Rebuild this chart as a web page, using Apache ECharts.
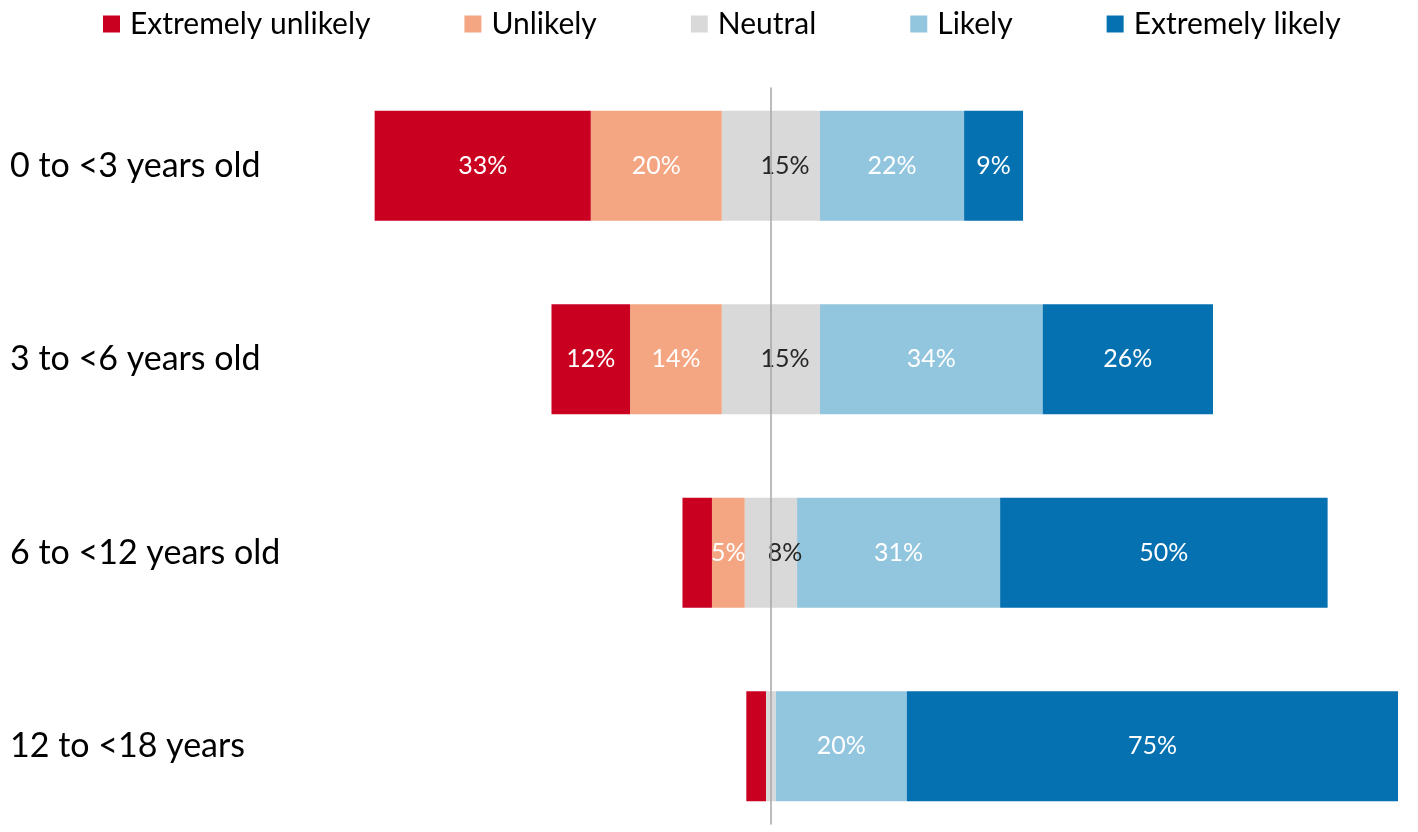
<!DOCTYPE html>
<html>
<head>
<meta charset="utf-8">
<script src="https://cdn.jsdelivr.net/npm/echarts@6/dist/echarts.min.js"></script>
<style>
  html,body{margin:0;padding:0;background:#fff;overflow:hidden;}
  /* a bit taller than the window: the last row runs past the bottom edge in the original */
  #chart{width:1418px;height:843px;}
</style>
</head>
<body>
<div id="chart"></div>
<script>
// categories, top to bottom
const ageGroups = ['0 to <3 years old', '3 to <6 years old', '6 to <12 years old', '12 to <18 years'];

// percentages per answer (unlabelled ones are estimates from bar widths)
const extremelyUnlikely = [33, 12, 4.5, 3];
const unlikely          = [20, 14, 5, 0];
const neutral           = [15, 15, 8, 1.5];
const likely            = [22, 34, 31, 20];
const extremelyLikely   = [9, 26, 50, 75];

const answerNames = ['Extremely unlikely', 'Unlikely', 'Neutral', 'Likely', 'Extremely likely'];
const colors = ['#CA0020', '#F4A582', '#D9D9D9', '#92C5DE', '#0571B0'];

const font = 'Lato, "Open Sans", sans-serif';

// only label segments of 5% or more
const pct = (v) => (v >= 5 ? Math.round(v) + '%' : '');

const labelWhite = {
  show: true,
  color: '#fff',
  fontFamily: font,
  fontSize: 25,
  position: 'inside'
};

function barSeries(name, values, color, sign, label) {
  return {
    name: name,
    type: 'bar',
    stack: 'total',
    barWidth: 110,
    xAxisIndex: 0,
    yAxisIndex: 0,
    itemStyle: {color: color},
    emphasis: {disabled: true},
    label: label,
    data: values.map(v => sign * v)
  };
}

const chart = echarts.init(document.getElementById('chart'));

const series = [
  // neutral is split across zero: left half first so it sits next to the centre
  barSeries('Neutral', neutral.map(v => v / 2), colors[2], -1, {show: false}),
  barSeries('Unlikely', unlikely, colors[1], -1,
    Object.assign({}, labelWhite, {formatter: p => pct(unlikely[p.dataIndex])})),
  barSeries('Extremely unlikely', extremelyUnlikely, colors[0], -1,
    Object.assign({}, labelWhite, {formatter: p => pct(extremelyUnlikely[p.dataIndex])})),
  barSeries('Neutral', neutral.map(v => v / 2), colors[2], 1,
    Object.assign({}, labelWhite, {
      color: '#262626',
      position: [14, '50%'],
      align: 'center',
      verticalAlign: 'middle',
      formatter: p => pct(neutral[p.dataIndex])
    })),
  barSeries('Likely', likely, colors[3], 1,
    Object.assign({}, labelWhite, {formatter: p => pct(likely[p.dataIndex])})),
  barSeries('Extremely likely', extremelyLikely, colors[4], 1,
    Object.assign({}, labelWhite, {formatter: p => pct(extremelyLikely[p.dataIndex])}))
];

const option = {
  animation: false,
  color: colors,
  legend: {
    data: answerNames.map((n, i) => ({name: n, itemStyle: {color: colors[i]}})),
    left: 98,
    top: 4,
    itemWidth: 17,
    itemHeight: 17,
    itemGap: 94,
    icon: 'rect',
    selectedMode: false,
    textStyle: {fontFamily: font, fontSize: 30, color: '#000', padding: [0, 0, 0, 5]}
  },
  grid: [
    {left: 0, right: 0, top: 69, bottom: 0},
    {left: 0, right: 0, top: 88, bottom: 19}
  ],
  xAxis: [
    {type: 'value', gridIndex: 0, min: -117.7, max: 98.8, show: false},
    {type: 'value', gridIndex: 1, min: -117.7, max: 98.8, show: false}
  ],
  yAxis: [
    {
      type: 'category',
      gridIndex: 0,
      inverse: true,
      data: ageGroups,
      axisLine: {show: false},
      axisTick: {show: false},
      axisLabel: {inside: true, margin: 10, fontFamily: font, fontSize: 34, color: '#000'}
    },
    {
      // centre line at zero
      type: 'value',
      gridIndex: 1,
      z: 10,
      axisLine: {show: true, onZero: true, lineStyle: {color: '#A6A6A6', width: 1.5}},
      axisTick: {show: false},
      axisLabel: {show: false},
      splitLine: {show: false}
    }
  ],
  series: series
};

chart.setOption(option);
</script>
</body>
</html>
